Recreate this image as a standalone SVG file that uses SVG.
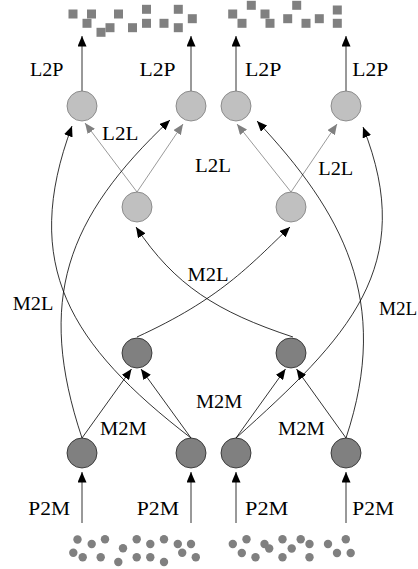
<svg xmlns="http://www.w3.org/2000/svg" width="418" height="569" viewBox="0 0 418 569">
<defs>
<style>
.lnode{fill:#c0c0c0;stroke:#7a7a7a;stroke-width:0.8}
.mnode{fill:#808080;stroke:#222;stroke-width:0.8}
.sq{fill:#808080}
.dot{fill:#808080}
.blk{fill:none;stroke:#000;stroke-width:0.8;marker-end:url(#ab)}
.gry{fill:none;stroke:#808080;stroke-width:0.8;marker-end:url(#ag)}
text{font-family:"Liberation Serif","DejaVu Serif",serif;font-size:18.5px;fill:#000}
</style>
<marker id="ab" markerWidth="11" markerHeight="9" refX="10.5" refY="4.5" orient="auto" markerUnits="userSpaceOnUse"><path d="M0,0 L10.5,4.5 L0,9 z" fill="#000"/></marker>
<marker id="ag" markerWidth="11" markerHeight="9" refX="10.5" refY="4.5" orient="auto" markerUnits="userSpaceOnUse"><path d="M0,0 L10.5,4.5 L0,9 z" fill="#808080"/></marker>
</defs>
<rect width="418" height="569" fill="#fff"/>

<g id="targets-left">
<rect class="sq" x="68.5" y="9.5" width="9" height="9"/>
<rect class="sq" x="87" y="9.5" width="9" height="9"/>
<rect class="sq" x="82.5" y="18.8" width="9" height="9"/>
<rect class="sq" x="96.5" y="27.8" width="9" height="9"/>
<rect class="sq" x="105.5" y="23.2" width="9" height="9"/>
<rect class="sq" x="114" y="9.5" width="9" height="9"/>
<rect class="sq" x="128" y="23.2" width="9" height="9"/>
<rect class="sq" x="142" y="4.8" width="9" height="9"/>
<rect class="sq" x="142" y="18.8" width="9" height="9"/>
<rect class="sq" x="159.5" y="18.8" width="9" height="9"/>
<rect class="sq" x="173.8" y="4.8" width="9" height="9"/>
<rect class="sq" x="173.8" y="23.2" width="9" height="9"/>
<rect class="sq" x="187.8" y="14.2" width="9" height="9"/>
</g>
<g id="targets-right">
<rect class="sq" x="228.2" y="9.5" width="9" height="9"/>
<rect class="sq" x="237.5" y="18.8" width="9" height="9"/>
<rect class="sq" x="246.8" y="0.8" width="9" height="9"/>
<rect class="sq" x="260.5" y="9.5" width="9" height="9"/>
<rect class="sq" x="265.5" y="18.8" width="9" height="9"/>
<rect class="sq" x="283.2" y="14.2" width="9" height="9"/>
<rect class="sq" x="292.2" y="0.8" width="9" height="9"/>
<rect class="sq" x="301.5" y="18.8" width="9" height="9"/>
<rect class="sq" x="314.8" y="14.2" width="9" height="9"/>
<rect class="sq" x="332.8" y="5.5" width="9" height="9"/>
<rect class="sq" x="332.8" y="18.8" width="9" height="9"/>
</g>

<g id="sources-left">
<circle class="dot" cx="77.5" cy="539.5" r="4.2"/>
<circle class="dot" cx="91.7" cy="544" r="4.2"/>
<circle class="dot" cx="105" cy="539.3" r="4.2"/>
<circle class="dot" cx="73.3" cy="552.7" r="4.2"/>
<circle class="dot" cx="82.7" cy="557.3" r="4.2"/>
<circle class="dot" cx="100.7" cy="557.3" r="4.2"/>
<circle class="dot" cx="123" cy="548.3" r="4.2"/>
<circle class="dot" cx="118.3" cy="562" r="4.2"/>
<circle class="dot" cx="136.7" cy="539.3" r="4.2"/>
<circle class="dot" cx="150.3" cy="544" r="4.2"/>
<circle class="dot" cx="164" cy="539.3" r="4.2"/>
<circle class="dot" cx="136.7" cy="557.3" r="4.2"/>
<circle class="dot" cx="150.3" cy="557.3" r="4.2"/>
<circle class="dot" cx="164" cy="562" r="4.2"/>
<circle class="dot" cx="177.8" cy="544" r="4.2"/>
<circle class="dot" cx="191" cy="544" r="4.2"/>
<circle class="dot" cx="182.2" cy="552.7" r="4.2"/>
<circle class="dot" cx="195.8" cy="557.3" r="4.2"/>
</g>
<g id="sources-right">
<circle class="dot" cx="232.8" cy="544" r="4.2"/>
<circle class="dot" cx="246.5" cy="539.3" r="4.2"/>
<circle class="dot" cx="241.8" cy="553" r="4.2"/>
<circle class="dot" cx="255.5" cy="557.3" r="4.2"/>
<circle class="dot" cx="264.5" cy="544" r="4.2"/>
<circle class="dot" cx="269.2" cy="548.5" r="4.2"/>
<circle class="dot" cx="282.5" cy="539.3" r="4.2"/>
<circle class="dot" cx="282.5" cy="557.3" r="4.2"/>
<circle class="dot" cx="291.7" cy="548.5" r="4.2"/>
<circle class="dot" cx="300.7" cy="539.3" r="4.2"/>
<circle class="dot" cx="309.5" cy="544" r="4.2"/>
<circle class="dot" cx="309.5" cy="557.3" r="4.2"/>
<circle class="dot" cx="328" cy="544" r="4.2"/>
<circle class="dot" cx="337" cy="553" r="4.2"/>
<circle class="dot" cx="345.8" cy="539.3" r="4.2"/>
<circle class="dot" cx="350.7" cy="553" r="4.2"/>
</g>

<g id="connectors">
<!-- L2P -->
<path class="blk" d="M82,91 L82,36"/>
<path class="blk" d="M191,91 L191,36"/>
<path class="blk" d="M236,91 L236,36"/>
<path class="blk" d="M346,91 L346,36"/>
<!-- P2M -->
<path class="blk" d="M82,523 L82,472"/>
<path class="blk" d="M191,523 L191,472"/>
<path class="blk" d="M236,523 L236,472"/>
<path class="blk" d="M346,523 L346,472"/>
<!-- M2M -->
<path class="blk" d="M82,438 L131.5,369"/>
<path class="blk" d="M191,438 L141,369"/>
<path class="blk" d="M236,438 L285.5,369"/>
<path class="blk" d="M346,438 L296.5,369"/>
<!-- L2L -->
<path class="gry" d="M137,192 L85,123"/>
<path class="gry" d="M137,192 L183,124"/>
<path class="gry" d="M291,192 L237,124"/>
<path class="gry" d="M291,192 L337,124"/>
<!-- M2L long -->
<path class="blk" d="M191,438 C70,345 20,265 72,126"/>
<path class="blk" d="M82,438 C36,300 66,218 170,120"/>
<path class="blk" d="M346,438 C392,300 342,212 257,121"/>
<path class="blk" d="M236,438 C348,337.5 418.5,266.5 363,127"/>
<!-- M2L middle -->
<path class="blk" d="M137,337 C220,299 249,266 290,227"/>
<path class="blk" d="M293,337 C217,312 174.5,285 136,227"/>
</g>

<g id="L1"><circle class="lnode" cx="82" cy="106" r="15"/></g>
<g id="L2"><circle class="lnode" cx="191" cy="106" r="15"/></g>
<g id="L3"><circle class="lnode" cx="236" cy="106" r="15"/></g>
<g id="L4"><circle class="lnode" cx="346" cy="106" r="15"/></g>
<g id="LP1"><circle class="lnode" cx="137" cy="207" r="15"/></g>
<g id="LP2"><circle class="lnode" cx="291" cy="207" r="15"/></g>
<g id="MP1"><circle class="mnode" cx="137" cy="353" r="15"/></g>
<g id="MP2"><circle class="mnode" cx="291" cy="353" r="15"/></g>
<g id="M1"><circle class="mnode" cx="82" cy="453" r="15"/></g>
<g id="M2"><circle class="mnode" cx="191" cy="453" r="15"/></g>
<g id="M3"><circle class="mnode" cx="236" cy="453" r="15"/></g>
<g id="M4"><circle class="mnode" cx="346" cy="453" r="15"/></g>

<g id="labels">
<text x="30" y="76" textLength="33.5" lengthAdjust="spacingAndGlyphs">L2P</text>
<text x="139.5" y="76" textLength="36" lengthAdjust="spacingAndGlyphs">L2P</text>
<text x="245" y="76" textLength="36.5" lengthAdjust="spacingAndGlyphs">L2P</text>
<text x="352.3" y="76" textLength="36" lengthAdjust="spacingAndGlyphs">L2P</text>
<text x="102" y="140" textLength="36.3" lengthAdjust="spacingAndGlyphs">L2L</text>
<text x="195" y="171.5" textLength="36" lengthAdjust="spacingAndGlyphs">L2L</text>
<text x="318.3" y="175" textLength="35" lengthAdjust="spacingAndGlyphs">L2L</text>
<text x="12.7" y="310" textLength="40.6" lengthAdjust="spacingAndGlyphs">M2L</text>
<text x="187.5" y="280.5" textLength="41" lengthAdjust="spacingAndGlyphs">M2L</text>
<text x="379" y="315" textLength="38.3" lengthAdjust="spacingAndGlyphs">M2L</text>
<text x="100" y="435" textLength="46.7" lengthAdjust="spacingAndGlyphs">M2M</text>
<text x="196" y="408" textLength="46.3" lengthAdjust="spacingAndGlyphs">M2M</text>
<text x="278" y="435" textLength="46.7" lengthAdjust="spacingAndGlyphs">M2M</text>
<text x="28.3" y="515" textLength="41.7" lengthAdjust="spacingAndGlyphs">P2M</text>
<text x="136.7" y="515" textLength="42.3" lengthAdjust="spacingAndGlyphs">P2M</text>
<text x="245" y="515" textLength="43.3" lengthAdjust="spacingAndGlyphs">P2M</text>
<text x="352.3" y="515" textLength="41.7" lengthAdjust="spacingAndGlyphs">P2M</text>
</g>
</svg>
